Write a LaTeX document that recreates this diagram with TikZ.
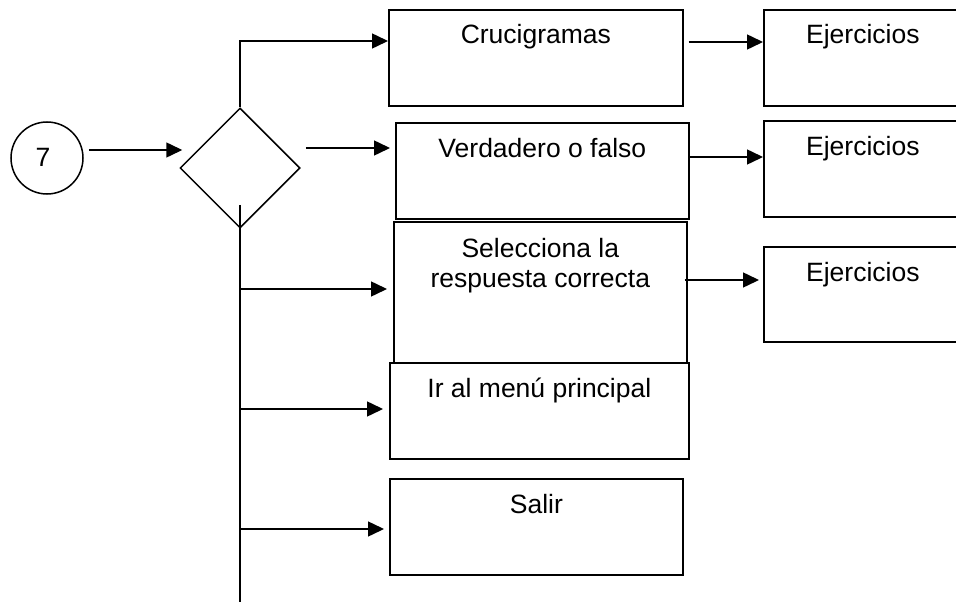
\documentclass[tikz,border=0pt]{standalone}
\usepackage{fontspec}
\setmainfont{Liberation Sans}
\usetikzlibrary{shapes.geometric,arrows.meta,calc}
\begin{document}
\begin{tikzpicture}[x=1pt,y=-1pt,
  box/.style={draw,line width=1.7pt,inner sep=0pt,anchor=north west,minimum height=96pt},
  arr/.style={line width=1.5pt,-{Triangle[length=16pt,width=15pt]}},
  ln/.style={line width=1.5pt},
  lbl/.style={font=\fontsize{26.5}{31}\selectfont,anchor=base,inner sep=0pt}]
\useasboundingbox (0,0) rectangle (956,602);
\clip (0,0) rectangle (956,602);
\fill[white] (0,0) rectangle (956,602);

% start and decision
\node[draw,circle,line width=1.5pt,minimum size=72pt,inner sep=0pt] (c7) at (47,158) {};
\node[lbl] (t7) at ($(c7.center)+(-4,8)$) {7};
\node[draw,diamond,aspect=1,line width=1.5pt,minimum width=120pt,minimum height=120pt,inner sep=0pt] (dia) at (240,168) {};

% option boxes
\node[box,minimum width=294pt,label={[lbl,yshift=-35pt]north:Crucigramas}] (cru) at (388,9) {};
\node[box,minimum width=293pt,label={[lbl,yshift=-35pt]north:Verdadero o falso}] (ver) at (395,122) {};
\node[box,minimum width=293pt,minimum height=141pt,
      label={[lbl,yshift=-36pt]north:Selecciona la},
      label={[lbl,yshift=-66pt]north:respuesta correcta}] (sel) at (393,221) {};
\node[box,minimum width=299pt,label={[lbl,yshift=-35pt]north:Ir al menú principal}] (ir) at (389,362) {};
\node[box,minimum width=293pt,label={[lbl,yshift=-35pt]north:Salir}] (sal) at (389,478) {};

% exercise boxes
\node[box,minimum width=198pt,label={[lbl,yshift=-35pt]north:Ejercicios}] (e1) at (763,9) {};
\node[box,minimum width=198pt,label={[lbl,yshift=-35pt]north:Ejercicios}] (e2) at (763,120) {};
\node[box,minimum width=198pt,minimum height=95pt,label={[lbl,yshift=-35pt]north:Ejercicios}] (e3) at (763,246) {};

% connectors
\draw[arr] ($(c7.east)+(5,-8)$) -- ($(dia.west)+(3,-18)$);
\draw[arr] (dia.north) |- ($(cru.north west)+(0,32)$);
\draw[arr] ($(dia.east)+(5,-20)$) -- ($(ver.north west)+(-5,26)$);
\coordinate (trunkend) at (240,608);
\draw[ln] ($(dia.south)+(0,-24)$) -- (trunkend);

\path ($(sel.north west)+(-6,68)$) coordinate (s1);
\path ($(ir.north west)+(-6,47)$) coordinate (s2);
\path ($(sal.north west)+(-5,51)$) coordinate (s3);
\draw[arr] (trunkend |- s1) -- (s1);
\draw[arr] (trunkend |- s2) -- (s2);
\draw[arr] (trunkend |- s3) -- (s3);

\draw[arr] ($(cru.north east)+(5,33)$) -- ($(e1.north west)+(0,33)$);
\draw[arr] ($(ver.north east)+(0,35)$) -- ($(e2.north west)+(0,37)$);
\draw[arr] ($(sel.north east)+(-3,59)$) -- ($(e3.north west)+(-4,34)$);
\end{tikzpicture}
\end{document}
